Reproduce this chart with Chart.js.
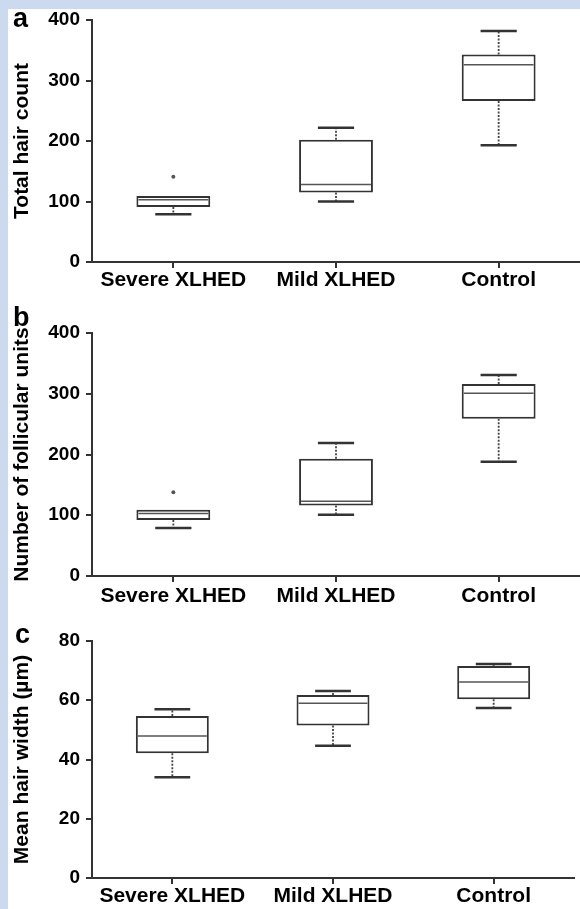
<!DOCTYPE html>
<html>
<head>
<meta charset="utf-8">
<script src="https://cdn.jsdelivr.net/npm/chart.js@4"></script>
<style>
  html, body { margin: 0; padding: 0; }
  body { width: 580px; height: 909px; background: #cbdaef; position: relative; overflow: hidden; }
  #sheet { position: absolute; left: 8px; top: 9px; width: 572px; height: 900px; background: #fff; }
  canvas { position: absolute; left: 0; }
</style>
</head>
<body>
<div id="sheet">
  <canvas id="chartA" width="572" height="291" style="top:0"></canvas>
  <canvas id="chartB" width="572" height="310" style="top:291px"></canvas>
  <canvas id="chartC" width="572" height="299" style="top:601px"></canvas>
</div>
<script>
const categories = ["Severe XLHED", "Mild XLHED", "Control"];

// a: total hair count
const hairMin = [79, 100, 193];
const hairQ1 = [91, 115, 266];
const hairMedian = [103, 128, 326];
const hairQ3 = [109, 202, 343];
const hairMax = [109, 222, 382];
const hairOutliers = [[141], [], []];

// b: follicular units
const follMin = [79, 101, 188];
const follQ1 = [92, 116, 259];
const follMedian = [103, 123, 301];
const follQ3 = [109, 193, 316];
const follMax = [109, 219, 331];
const follOutliers = [[138], [], []];

// c: mean hair width (um)
const widthMin = [34, 44.6, 57.4];
const widthQ1 = [42.1, 51.5, 60.3];
const widthMedian = [47.9, 59, 66.2];
const widthQ3 = [54.7, 61.8, 71.6];
const widthMax = [57, 63.1, 72.2];
const widthOutliers = [[], [], []];

const FONT = "'Liberation Sans', Arial, Helvetica, sans-serif";

// medians, whiskers, caps and outliers on top of the floating bars
const boxWhiskers = {
  id: "boxWhiskers",
  afterDatasetsDraw(chart) {
    const ctx = chart.ctx;
    const y = chart.scales.y;
    const s = chart.data.datasets[0].stats;
    const meta = chart.getDatasetMeta(0);
    const line = (x1, y1, x2, y2) => {
      ctx.beginPath();
      ctx.moveTo(x1, y1);
      ctx.lineTo(x2, y2);
      ctx.stroke();
    };
    ctx.save();
    meta.data.forEach((bar, i) => {
      const cx = bar.x;
      const half = bar.width / 2;
      const capHalf = half * 0.49;
      const yMin = y.getPixelForValue(s.min[i]);
      const yQ1 = y.getPixelForValue(s.q1[i]);
      const yMed = y.getPixelForValue(s.median[i]);
      const yQ3 = y.getPixelForValue(s.q3[i]);
      const yMax = y.getPixelForValue(s.max[i]);

      ctx.setLineDash([]);
      ctx.strokeStyle = "#555";
      ctx.lineWidth = 1.5;
      line(cx - half + 2, yMed, cx + half - 2, yMed);

      ctx.strokeStyle = "#444";
      ctx.lineWidth = 1.8;
      ctx.setLineDash([2, 1.5]);
      if (s.max[i] > s.q3[i]) line(cx, yQ3, cx, yMax);
      if (s.min[i] < s.q1[i]) line(cx, yQ1, cx, yMin);

      ctx.setLineDash([]);
      ctx.strokeStyle = "#333";
      ctx.lineWidth = 2.5;
      if (s.max[i] > s.q3[i]) line(cx - capHalf, yMax, cx + capHalf, yMax);
      if (s.min[i] < s.q1[i]) line(cx - capHalf, yMin, cx + capHalf, yMin);

      ctx.fillStyle = "#555";
      s.outliers[i].forEach(v => {
        ctx.beginPath();
        ctx.arc(cx, y.getPixelForValue(v), 2, 0, Math.PI * 2);
        ctx.fill();
      });
    });
    ctx.restore();
  }
};

const panelLabel = {
  id: "panelLabel",
  afterDraw(chart, args, opts) {
    const ctx = chart.ctx;
    ctx.save();
    ctx.font = "bold 27px " + FONT;
    ctx.fillStyle = "#000";
    ctx.textBaseline = "alphabetic";
    ctx.fillText(opts.text, opts.x, opts.y);
    ctx.restore();
  }
};

function makeChart(id, stats, yMax, yStep, yTitle, letter, lay) {
  return new Chart(document.getElementById(id), {
    type: "bar",
    data: {
      labels: categories,
      datasets: [{
        data: stats.q1.map((v, i) => [v, stats.q3[i]]),
        stats: stats,
        backgroundColor: "#fff",
        borderColor: "#333",
        borderWidth: 2,
        borderSkipped: false,
        barPercentage: 0.454,
        categoryPercentage: 1
      }]
    },
    options: {
      responsive: false,
      animation: false,
      layout: { padding: { top: lay.top, right: lay.right, left: 0, bottom: 0 } },
      plugins: {
        legend: { display: false },
        tooltip: { enabled: false },
        panelLabel: letter
      },
      scales: {
        x: {
          offset: true,
          grid: { offset: false, drawOnChartArea: false, tickLength: 6, color: "#333", lineWidth: 2 },
          border: { color: "#333", width: 2 },
          ticks: { color: "#000", font: { family: FONT, size: 21, weight: "bold" }, padding: lay.xPad, maxRotation: 0, autoSkip: false },
          afterFit(s) { s.height = lay.xHeight; }
        },
        y: {
          min: 0,
          max: yMax,
          grid: { drawOnChartArea: false, tickLength: 6, color: "#333", lineWidth: 2 },
          border: { color: "#333", width: 2 },
          ticks: { stepSize: yStep, color: "#000", font: { family: FONT, size: 19, weight: "bold", lineHeight: 1 }, padding: 6 },
          title: { display: true, text: yTitle, color: "#000", font: { family: FONT, size: 21, weight: "bold" }, padding: { top: 2, bottom: 0 } },
          afterFit(s) {
            s.width = 84;
            s.paddingTop = 0;
            s.paddingBottom = 0;
          }
        }
      }
    },
    plugins: [boxWhiskers, panelLabel]
  });
}

makeChart("chartA",
  { min: hairMin, q1: hairQ1, median: hairMedian, q3: hairQ3, max: hairMax, outliers: hairOutliers },
  400, 100, "Total hair count",
  { text: "a", x: 5, y: 18 },
  { top: 11, right: 0, xHeight: 38, xPad: 0 });

makeChart("chartB",
  { min: follMin, q1: follQ1, median: follMedian, q3: follQ3, max: follMax, outliers: follOutliers },
  400, 100, "Number of follicular units",
  { text: "b", x: 5, y: 26 },
  { top: 33, right: 0, xHeight: 34, xPad: 2 });

makeChart("chartC",
  { min: widthMin, q1: widthQ1, median: widthMedian, q3: widthQ3, max: widthMax, outliers: widthOutliers },
  80, 20, "Mean hair width (\u00b5m)",
  { text: "c", x: 7, y: 33 },
  { top: 31, right: 6, xHeight: 31, xPad: 0 });
</script>
</body>
</html>
